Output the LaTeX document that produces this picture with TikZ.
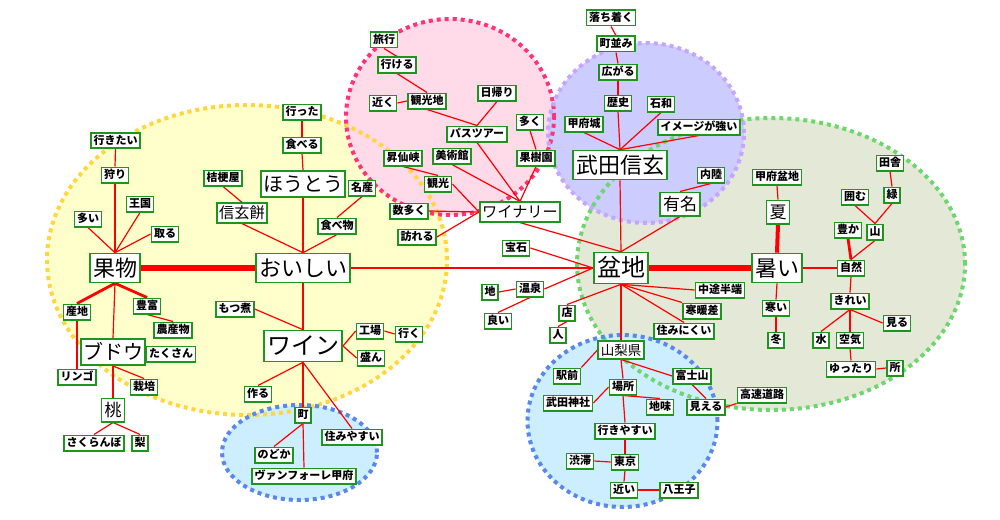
\documentclass[tikz,border=0pt]{standalone}
\usepackage{fontspec}
\newfontfamily\jp{Noto Sans CJK JP}
\definecolor{gb}{RGB}{30,150,30}
\definecolor{yfillc}{RGB}{255,255,204}
\definecolor{ydot}{RGB}{255,214,64}
\definecolor{pfillc}{RGB}{255,218,232}
\definecolor{pdot}{RGB}{255,51,119}
\definecolor{vfillc}{RGB}{204,204,255}
\definecolor{vdot}{RGB}{196,166,255}
\definecolor{gfillc}{RGB}{227,233,214}
\definecolor{gdot}{RGB}{110,214,110}
\definecolor{bfillc}{RGB}{204,238,255}
\definecolor{bdot}{RGB}{90,135,235}
\pgfdeclarelayer{bg}
\pgfdeclarelayer{edge}
\pgfsetlayers{bg,edge,main}
\begin{document}
\begin{tikzpicture}[x=1pt,y=-1pt,
  bx/.style={draw=gb, line width=1.6pt, fill=white},
  sm/.style={bx, inner xsep=2.6pt, inner ysep=2.2pt, text height=9.2pt, text depth=1.8pt, font=\jp\bfseries\fontsize{11}{11}\selectfont},
  Lxxii/.style={bx, inner xsep=3pt, inner ysep=3.5pt, text height=19pt, text depth=3pt, font=\jp\fontsize{22}{22}\selectfont},
  Lxxiv/.style={bx, inner xsep=3.2pt, inner ysep=3.5pt, text height=20.8pt, text depth=3.2pt, font=\jp\fontsize{24}{24}\selectfont},
  Lxx/.style={bx, inner xsep=2.2pt, inner ysep=3.2pt, text height=17.4pt, text depth=2.6pt, font=\jp\fontsize{20}{20}\selectfont},
  Mxvii/.style={bx, inner xsep=3pt, inner ysep=3.2pt, text height=14.8pt, text depth=2.2pt, font=\jp\fontsize{17}{17}\selectfont},
  Mxv/.style={bx, inner xsep=2.4pt, inner ysep=2.2pt, text height=13.2pt, text depth=2pt, font=\jp\fontsize{15.2}{15.2}\selectfont},
  Mxiii/.style={bx, inner xsep=2.5pt, inner ysep=2pt, text height=11.8pt, text depth=1.7pt, font=\jp\fontsize{13.5}{13.5}\selectfont},
  ln/.style={red, line width=1.2pt},
  wvi/.style={red, line width=6pt},
  wiv/.style={red, line width=4pt},
  wiii/.style={red, line width=2.8pt},
  dotb/.style={line width=4pt, dash pattern=on 4pt off 4pt}
]
\useasboundingbox (0,0) rectangle (1000,519);
% ---------- regions ----------
\begin{pgfonlayer}{bg}
\fill[yfillc] (247,260) ellipse [x radius=200pt, y radius=155pt];
\fill[pfillc] (450,117) ellipse [x radius=104pt, y radius=98pt];
\fill[gfillc] (771,264) ellipse [x radius=194pt, y radius=146pt];
\fill[vfillc] (646,133) ellipse [x radius=98pt, y radius=90pt];
\fill[bfillc] (299.5,452.5) ellipse [x radius=77.5pt, y radius=47.5pt];
\fill[bfillc] (622.5,421) ellipse [x radius=95pt, y radius=86pt];
\draw[dotb, ydot] (247,260) ellipse [x radius=200pt, y radius=155pt];
\draw[dotb, pdot] (450,117) ellipse [x radius=104pt, y radius=98pt];
\draw[dotb, gdot] (771,264) ellipse [x radius=194pt, y radius=146pt];
\draw[dotb, vdot] (646,133) ellipse [x radius=98pt, y radius=90pt];
\draw[dotb, bdot] (299.5,452.5) ellipse [x radius=77.5pt, y radius=47.5pt];
\draw[dotb, bdot] (622.5,421) ellipse [x radius=95pt, y radius=86pt];
\end{pgfonlayer}
% ---------- yellow ----------
\node[sm] (yukitai) at (115.5,140.5) {行きたい};
\node[sm] (kari) at (115,175) {狩り};
\node[sm] (oukoku) at (140,204) {王国};
\node[sm] (ooi) at (88,219) {多い};
\node[sm] (toru) at (165,234) {取る};
\node[Lxxii] (kudamono) at (115,268) {果物};
\node[sm] (kikyou) at (223,178) {桔梗屋};
\node[Mxv] (shingen) at (242,213) {信玄餅};
\node[Lxx] (houtou) at (303,184) {ほうとう};
\node[sm] (itta) at (302,112) {行った};
\node[sm] (taberu) at (302,145) {食べる};
\node[sm] (meisan) at (362,188) {名産};
\node[sm] (tabemono) at (337,226) {食べ物};
\node[Lxxii] (oishii) at (303,268) {おいしい};
\node[sm] (sanchi) at (77,312) {産地};
\node[sm] (houfu) at (147,306) {豊富};
\node[sm] (nousan) at (173,330) {農産物};
\node[Lxx] (budou) at (113,352) {ブドウ};
\node[sm] (takusan) at (171,354) {たくさん};
\node[sm] (ringo) at (77,377) {リンゴ};
\node[sm] (saibai) at (144,387) {栽培};
\node[Mxvii] (momo) at (113,410) {桃};
\node[sm] (sakuranbo) at (94,443) {さくらんぼ};
\node[sm] (nashi) at (140,443) {梨};
\node[sm] (motsu) at (235,309) {もつ煮};
\node[Lxxiv] (wine) at (303,346) {ワイン};
\node[sm] (tsukuru) at (258,394) {作る};
\node[sm] (machi) at (303,415) {町};
\node[sm] (sumiyasui) at (352,437) {住みやすい};
\node[sm] (nodoka) at (274,455) {のどか};
\node[sm] (vf) at (304,476) {ヴァンフォーレ甲府};
\node[sm] (koujou) at (370,331) {工場};
\node[sm] (sakan) at (371,358) {盛ん};
\node[sm] (iku) at (409,334) {行く};
% ---------- pink ----------
\node[sm] (ryokou) at (384,40) {旅行};
\node[sm] (ikeru) at (397,65) {行ける};
\node[sm] (chikaku) at (383,103) {近く};
\node[sm] (kankouchi) at (427,101) {観光地};
\node[sm] (higaeri) at (497,93) {日帰り};
\node[sm] (bus) at (477,134) {パスツアー};
\node[sm] (ooku) at (530,122) {多く};
\node[sm] (kajuen) at (536,158) {果樹園};
\node[sm] (shousen) at (403,158) {昇仙峡};
\node[sm] (bijutsu) at (452,156) {美術館};
\node[sm] (kankou) at (438,184) {観光};
\node[sm] (kazuooku) at (409,211) {数多く};
\node[Mxv] (winery) at (520,212) {ワイナリー};
\node[sm] (otozureru) at (417,237) {訪れる};
% ---------- purple ----------
\node[sm] (ochitsuku) at (611,18) {落ち着く};
\node[sm] (machinami) at (616,44) {町並み};
\node[sm] (hirogaru) at (618,72) {広がる};
\node[sm] (rekishi) at (618,103) {歴史};
\node[sm] (isawa) at (661,104) {石和};
\node[sm] (koufujou) at (584,124) {甲府城};
\node[sm] (image) at (699,127) {イメージが強い};
\node[Lxxii] (takeda) at (620,165) {武田信玄};
\node[sm] (nairiku) at (711,175) {内陸};
\node[Mxvii] (yuumei) at (680,204) {有名};
% ---------- green ----------
\node[sm] (inaka) at (890,163) {田舎};
\node[sm] (koufubonchi) at (777,177) {甲府盆地};
\node[sm] (kakomu) at (855,197) {囲む};
\node[sm] (midori) at (892,195) {緑};
\node[Mxvii] (natsu) at (778,212) {夏};
\node[sm] (yutaka) at (848,230) {豊か};
\node[sm] (yama) at (875,232) {山};
\node[Lxxii] (atsui) at (777,268) {暑い};
\node[sm] (shizen) at (851,268) {自然};
\node[sm] (samui) at (776,308) {寒い};
\node[sm] (kirei) at (850,301) {きれい};
\node[sm] (miru) at (897,323) {見る};
\node[sm] (mizu) at (821,340) {水};
\node[sm] (kuuki) at (850,340) {空気};
\node[sm] (fuyu) at (776,340) {冬};
\node[sm] (yuttari) at (851,369) {ゆったり};
\node[sm] (tokoro) at (895,368) {所};
% ---------- centre / bottom ----------
\node[sm] (houseki) at (516,248) {宝石};
\node[Lxxiv] (bonchi) at (621,268) {盆地};
\node[sm] (chi) at (490,292) {地};
\node[sm] (onsen) at (530,289) {温泉};
\node[sm] (yoi) at (498,321) {良い};
\node[sm] (mise) at (567,313) {店};
\node[sm] (hito) at (558,335) {人};
\node[sm] (chuuto) at (720,290) {中途半端};
\node[sm] (kandan) at (702,311) {寒暖差};
\node[sm] (suminikui) at (684,331) {住みにくい};
\node[Mxiii] (yamanashi) at (621,350) {山梨県};
\node[sm] (ekimae) at (567,376) {駅前};
\node[sm] (fuji) at (692,376) {富士山};
\node[sm] (basho) at (623,387) {場所};
\node[sm] (jinja) at (568,403) {武田神社};
\node[sm] (jimi) at (660,407) {地味};
\node[sm] (mieru) at (706,407) {見える};
\node[sm] (kousoku) at (762,395) {高速道路};
\node[sm] (ikiyasui) at (625,431) {行きやすい};
\node[sm] (juutai) at (580,461) {渋滞};
\node[sm] (tokyo) at (625,462) {東京};
\node[sm] (chikai) at (624,490) {近い};
\node[sm] (hachiouji) at (679,490) {八王子};
% ---------- connectors ----------
\begin{pgfonlayer}{edge}
\draw[ln] (yukitai.south) -- (kari.north);
\draw[ln] (kari.south) -- (kudamono.north);
\draw[ln] (oukoku.south) -- (kudamono.north);
\draw[ln] (ooi.south) -- (kudamono.north);
\draw[ln] (toru.west) -- (kudamono.north);
\draw[wvi] (kudamono.east) -- (oishii.west);
\draw[ln] (kikyou.south) -- (shingen.north);
\draw[ln] (shingen.south) -- (oishii.north);
\draw[ln] (itta.south) -- (taberu.north);
\draw[ln] (taberu.south) -- (houtou.north);
\draw[ln] (houtou.south) -- (oishii.north);
\draw[ln] (meisan.south) -- (tabemono.north);
\draw[ln] (tabemono.south) -- (oishii.north);
\draw[wiii] (kudamono.south) -- (sanchi.north);
\draw[wiii] (kudamono.south) -- (houfu.north);
\draw[ln] (kudamono.south) -- (budou.north);
\draw[ln] (houfu.south) -- (nousan.north);
\draw[ln] (sanchi.south) -- (ringo.north);
\draw[ln] (budou.east) -- (takusan.west);
\draw[ln] (budou.south) -- (saibai.north);
\draw[ln] (budou.south) -- (momo.north);
\draw[ln] (momo.south) -- (sakuranbo.north);
\draw[ln] (momo.south) -- (nashi.north);
\draw[ln] (oishii.south) -- (wine.north);
\draw[ln] (motsu.east) -- (wine.north);
\draw[ln] (wine.east) -- (koujou.west);
\draw[ln] (wine.east) -- (sakan.west);
\draw[ln] (koujou.east) -- (iku.west);
\draw[ln] (wine.south) -- (tsukuru.north);
\draw[ln] (wine.south) -- (machi.north);
\draw[ln] (wine.south) -- (sumiyasui.north);
\draw[ln] (machi.south) -- (nodoka.north);
\draw[ln] (machi.south) -- (vf.north);
\draw[ln] (oishii.east) -- (bonchi.west);
% pink
\draw[ln] (ryokou.south) -- (ikeru.north);
\draw[ln] (ikeru.south) -- (kankouchi.north);
\draw[ln] (chikaku.east) -- (kankouchi.west);
\draw[ln] (kankouchi.south) -- (bus.north);
\draw[ln] (higaeri.south) -- (bus.north);
\draw[ln] (bus.south) -- (winery.north);
\draw[ln] (bijutsu.south) -- (winery.north);
\draw[ln] (kajuen.south) -- (winery.north);
\draw[ln] (ooku.south) -- (kajuen.north);
\draw[ln] (shousen.south) -- (kankou.north);
\draw[ln] (kankou.east) -- (winery.west);
\draw[ln] (kazuooku.east) -- (winery.west);
\draw[ln] (otozureru.east) -- (winery.west);
\draw[ln] (winery.south) -- (bonchi.north);
% purple
\draw[ln] (ochitsuku.south) -- (machinami.north);
\draw[ln] (machinami.south) -- (hirogaru.north);
\draw[ln] (hirogaru.south) -- (rekishi.north);
\draw[ln] (rekishi.south) -- (takeda.north);
\draw[ln] (koufujou.south) -- (takeda.north);
\draw[ln] (isawa.south) -- (takeda.north);
\draw[ln] (image.south) -- (takeda.north);
\draw[ln] (takeda.south) -- (bonchi.north);
\draw[ln] (nairiku.south) -- (yuumei.north);
\draw[ln] (yuumei.south) -- (bonchi.north);
% green
\draw[ln] (koufubonchi.south) -- (natsu.north);
\draw[wiv] (natsu.south) -- (atsui.north);
\draw[wvi] (bonchi.east) -- (atsui.west);
\draw[ln] (atsui.east) -- (shizen.west);
\draw[ln] (atsui.south) -- (samui.north);
\draw[ln] (samui.south) -- (fuyu.north);
\draw[wiii] (yutaka.south) -- (shizen.north);
\draw[ln] (yama.south) -- (shizen.north);
\draw[ln] (kakomu.south) -- (yama.north);
\draw[ln] (midori.south) -- (yama.north);
\draw[ln] (inaka.south) -- (midori.north);
\draw[ln] (shizen.south) -- (kirei.north);
\draw[ln] (kirei.south) -- (mizu.north);
\draw[ln] (kirei.south) -- (kuuki.north);
\draw[ln] (kirei.south) -- (miru.west);
\draw[ln] (kuuki.south) -- (yuttari.north);
\draw[ln] (yuttari.east) -- (tokoro.west);
% bottom
\draw[ln] (houseki.east) -- (bonchi.west);
\draw[ln] (onsen.east) -- (bonchi.west);
\draw[ln] (chi.east) -- (onsen.west);
\draw[ln] (onsen.south) -- (yoi.north);
\draw[ln] (bonchi.south) -- (mise.north);
\draw[ln] (mise.south) -- (hito.north);
\draw[ln] (bonchi.south) -- (chuuto.west);
\draw[ln] (bonchi.south) -- (kandan.north west);
\draw[ln] (bonchi.south) -- (suminikui.north);
\draw[ln] (bonchi.south) -- (yamanashi.north);
\draw[ln] (yamanashi.west) -- (ekimae.north east);
\draw[ln] (yamanashi.south) -- (basho.north);
\draw[ln] (yamanashi.south) -- (fuji.west);
\draw[ln] (fuji.south) -- (mieru.north);
\draw[ln] (mieru.east) -- (kousoku.south west);
\draw[ln] (basho.west) -- (jinja.east);
\draw[ln] (basho.south) -- (jimi.north);
\draw[ln] (basho.south) -- (ikiyasui.north);
\draw[ln] (ikiyasui.south) -- (tokyo.north);
\draw[ln] (juutai.east) -- (tokyo.west);
\draw[ln] (tokyo.south) -- (chikai.north);
\draw[ln] (chikai.east) -- (hachiouji.west);
\end{pgfonlayer}
\end{tikzpicture}
\end{document}
